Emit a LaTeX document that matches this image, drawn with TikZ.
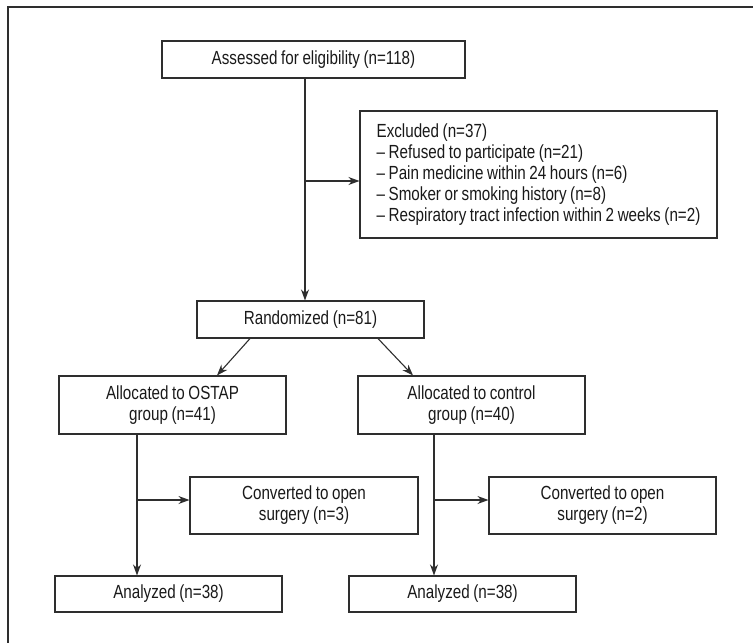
\documentclass[tikz,border=0pt]{standalone}
\usepackage{fontspec}
\setmainfont{Liberation Sans}[FakeStretch=0.8, WordSpace=0.85]
\usepackage{tikz}
\usetikzlibrary{arrows.meta}
\definecolor{linegray}{HTML}{2E2E2E}

\begin{document}
\begin{tikzpicture}[x=1pt, y=-1pt, >={Stealth[length=11pt,width=8pt]},
  main/.style = {draw=linegray, line width=1.1pt, inner sep=0pt, align=center,
    minimum width=227, font=\fontsize{19}{21}\selectfont, text=black!90},
  link/.style = {draw=linegray, line width=1.1pt}]
\useasboundingbox (0,0) rectangle (753,643);
\draw[link] (8,643) -- (8,7) -- (753,7);
\node[main, minimum width=303, minimum height=37] (1) at (313.5,59.5) {Assessed for eligibility (n=118)};
\node[main, minimum width=357, minimum height=127, align=left] (2) at (538.5,174.5)
  {Excluded (n=37)\\
   -- Refused to participate (n=21)\\
   -- Pain medicine within 24 hours (n=6)\\
   -- Smoker or smoking history (n=8)\\
   -- Respiratory tract infection within 2 weeks (n=2)};
\node[main, minimum height=37] (3) at (310.5,319.5) {Randomized (n=81)};
\node[main, minimum height=58] (4) at (172.5,405) {Allocated to OSTAP\\group (n=41)};
\node[main, minimum height=58] (5) at (471.5,405) {Allocated to control\\group (n=40)};
\node[main, minimum width=228, minimum height=57] (6) at (304,505.5) {Converted to open\\surgery (n=3)};
\node[main, minimum height=57] (7) at (602.5,505.5) {Converted to open\\surgery (n=2)};
\node[main, minimum height=36] (8) at (168.5,594) {Analyzed (n=38)};
\node[main, minimum height=36] (9) at (462.5,594) {Analyzed (n=38)};
% branch points
\coordinate (a) at (305,181);
\coordinate (b) at (137,500);
\coordinate (c) at (434,500);
\draw[link, ->] ([xshift=-8.5]1.south) -- ([xshift=-5.5]3.north);
\draw[link, ->] (a) -- (a -| 2.west);
\draw[link, ->] ([xshift=-60.5]3.south) -- ([xshift=44.5]4.north);
\draw[link, ->] ([xshift=67.5]3.south) -- ([xshift=-58.5]5.north);
\draw[link, ->] ([xshift=-35.5]4.south) -- ([xshift=-31.5]8.north);
\draw[link, ->] ([xshift=-37.5]5.south) -- ([xshift=-28.5]9.north);
\draw[link, ->] (b) -- (b -| 6.west);
\draw[link, ->] (c) -- (c -| 7.west);
\end{tikzpicture}
\end{document}
